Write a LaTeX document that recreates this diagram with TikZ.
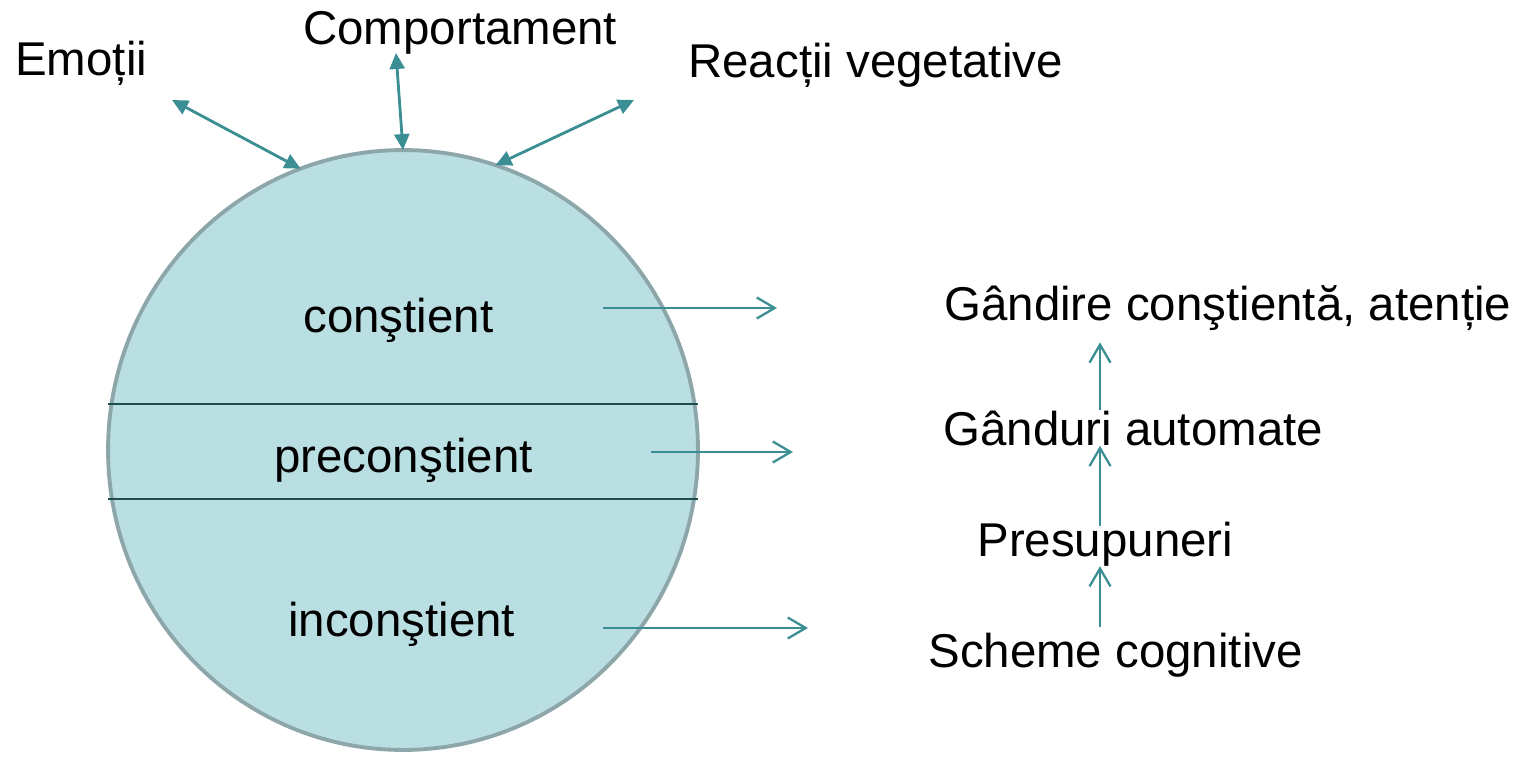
\documentclass[tikz,border=0pt]{standalone}
\usepackage{fontspec}
\setmainfont{Liberation Sans}
\usetikzlibrary{arrows.meta,shapes.geometric}

\definecolor{sphere}{HTML}{BADFE3}
\definecolor{rim}{HTML}{8CA6A9}
\definecolor{layerline}{HTML}{1E4B50}
\definecolor{arrowteal}{HTML}{3B8E93}

\tikzset{
  txt/.style={anchor=base west, inner sep=0pt, font=\fontsize{27}{32}\selectfont},
  twoway/.style={arrowteal, line width=1.6pt,
    {Triangle[length=0.32cm,width=0.3cm]}-{Triangle[length=0.32cm,width=0.3cm]}},
  outarrow/.style={arrowteal, line width=1.3pt, -{Straight Barb[length=0.36cm,width=0.42cm]}},
  divide/.style={layerline, line width=1.6pt},
}

\begin{document}
\begin{tikzpicture}[x=0.02cm, y=-0.02cm]
    \useasboundingbox (0,0) rectangle (1530,757);

    % the sphere and its layers
    \node[ellipse, draw=rim, fill=sphere, line width=2.2pt, minimum width=11.8cm,
          minimum height=12.0cm, inner sep=0pt, outer sep=0pt] (psyche) at (403,450) {};
    \coordinate (upperCut) at (0,404);
    \coordinate (lowerCut) at (0,499);
    \draw[divide] (psyche.west |- upperCut) -- (psyche.east |- upperCut);
    \draw[divide] (psyche.west |- lowerCut) -- (psyche.east |- lowerCut);

    \node[txt] (consc) at (303,332) {conştient};
    \node[txt] (precon) at (274,472) {preconştient};
    \node[txt] (incon) at (288,636) {inconştient};

    % outputs on top
    \node[txt] (emotii) at (15,75) {Emoții};
    \node[txt] (comport) at (303,45) {Comportament};
    \node[txt] (reactii) at (688,78) {Reacții vegetative};

    \coordinate (emotiiTip) at (172,100);
    \coordinate (comportTip) at (396,53);
    \coordinate (reactiiTip) at (634,100);
    \draw[twoway] (psyche.110) -- (emotiiTip);
    \draw[twoway] (psyche.90) -- (comportTip);
    \draw[twoway] (psyche.72.7) -- (reactiiTip);

    % layer arrows
    \coordinate (conscFrom) at (603,308);
    \coordinate (conscTo) at (777,308);
    \coordinate (preconFrom) at (651,452);
    \coordinate (preconTo) at (793,452);
    \coordinate (inconFrom) at (603,628);
    \coordinate (inconTo) at (808,628);
    \draw[outarrow] (conscFrom) -- (conscTo);
    \draw[outarrow] (preconFrom) -- (preconTo);
    \draw[outarrow] (inconFrom) -- (inconTo);

    % cognitive levels
    \node[txt] (gandire) at (944,320) {Gândire conştientă, atenție};
    \node[txt] (ganduri) at (943,445) {Gânduri automate};
    \node[txt] (presup) at (977,556) {Presupuneri};
    \node[txt] (scheme) at (928,667) {Scheme cognitive};

    \coordinate (column) at (1100,0);
    \draw[outarrow, shorten <=0.1cm] (scheme.north -| column) -- (presup.south -| column);
    \draw[outarrow, shorten <=-0.1cm] (presup.north -| column) -- (ganduri.south -| column);
    \draw[outarrow, shorten >=0.24cm] (ganduri.north -| column) -- (gandire.south -| column);
\end{tikzpicture}
\end{document}
